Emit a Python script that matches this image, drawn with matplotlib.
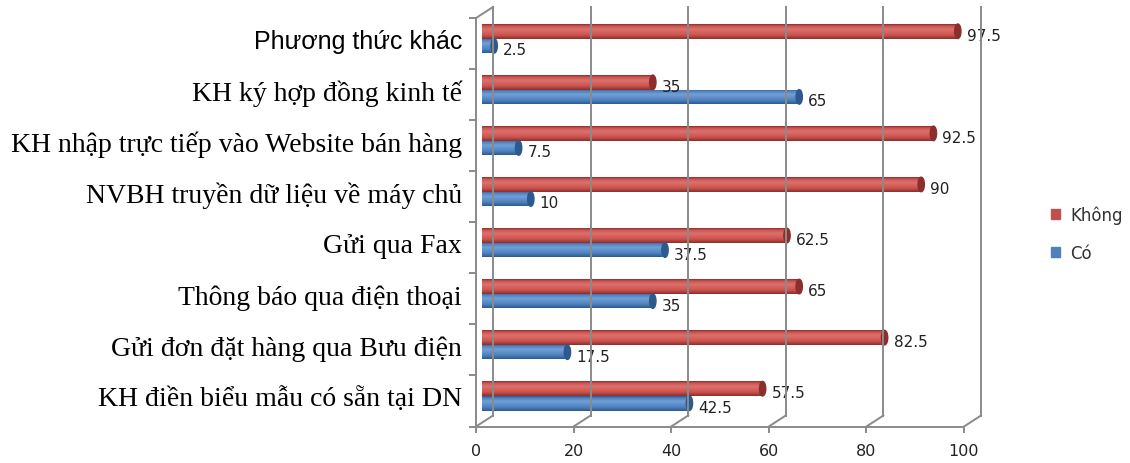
import numpy as np
import matplotlib
matplotlib.use("Agg")
import matplotlib.pyplot as plt
import matplotlib.transforms as mtrans
from matplotlib.lines import Line2D
from matplotlib.patches import Patch

# categories listed bottom -> top
categories = [
    "KH điền biểu mẫu có sẵn tại DN",
    "Gửi đơn đặt hàng qua Bưu điện",
    "Thông báo qua điện thoại",
    "Gửi qua Fax",
    "NVBH truyền dữ liệu về máy chủ",
    "KH nhập trực tiếp vào Website bán hàng",
    "KH ký hợp đồng kinh tế",
    "Phương thức khác",
]
khong = [57.5, 82.5, 65, 62.5, 90, 92.5, 35, 97.5]
co = [42.5, 17.5, 35, 37.5, 10, 7.5, 65, 2.5]
xticks = [0, 20, 40, 60, 80, 100]

red = "#C0504D"
blue = "#4F81BD"
grid_c = "#8A8A8A"

fig = plt.figure(figsize=(11.3, 4.64), dpi=100)
ax = fig.add_axes([482 / 1130, 41.5 / 464, 488 / 1130, 408.5 / 464])

y = np.arange(len(categories))
h = 0.285
bars_k = ax.barh(y + h / 2, khong, height=h, color=red, zorder=3)
bars_c = ax.barh(y - h / 2, co, height=h, color=blue, zorder=3)


def shade(bars, dark, mid, light):
    # fake cylinder look: vertical gradient clipped to each bar
    cm = matplotlib.colors.LinearSegmentedColormap.from_list(
        "c", [(0, dark), (0.25, mid), (0.65, light), (0.88, mid), (1, dark)])
    grad = np.linspace(0, 1, 64).reshape(-1, 1)
    for b in bars:
        x0, y0 = b.get_x(), b.get_y()
        im = ax.imshow(grad, cmap=cm, extent=[x0, x0 + b.get_width(), y0, y0 + b.get_height()],
                       origin="lower", aspect="auto", zorder=4, interpolation="bilinear")
        im.set_clip_path(b)
        cap = matplotlib.patches.Ellipse((x0 + b.get_width(), y0 + b.get_height() / 2), 1.3,
                                         b.get_height(), color=dark, zorder=5)
        ax.add_patch(cap)


shade(bars_k, "#8C2E2B", "#C9524E", "#DE716D")
shade(bars_c, "#2D5A8E", "#4D80BC", "#72A0D8")

for bars, vals in [(bars_k, khong), (bars_c, co)]:
    for b, v in zip(bars, vals):
        ax.annotate(f"{v:g}", (v, b.get_y() + b.get_height() / 2), xytext=(9, -4),
                    textcoords="offset pixels", va="center", ha="left",
                    fontsize=11, color="#222222", zorder=6)

ax.set_xlim(0, 100)
ax.set_ylim(-0.5, len(categories) - 0.5)
for s in ax.spines.values():
    s.set_visible(False)

ax.set_yticks(y)
ax.set_yticklabels(categories)
ax.tick_params(axis="y", length=0, pad=14.4)
for lbl in ax.get_yticklabels():
    if lbl.get_text() == "Phương thức khác":
        lbl.set_fontfamily("Liberation Sans")
        lbl.set_fontsize(18)
    else:
        lbl.set_fontfamily("Liberation Serif")
        lbl.set_fontsize(20)

front_off = mtrans.ScaledTranslation(-6 / 100, -5 / 100, fig.dpi_scale_trans)
ax.set_xticks(xticks)
ax.tick_params(axis="x", length=0, pad=12, labelsize=11.5, labelcolor="#222222")
for lbl in ax.get_xticklabels():
    lbl.set_transform(lbl.get_transform() + front_off)

# 3D frame: front plane, back wall and floor
FX, FY = -6, -5
BX, BY = 11, 6


def pt(x, yv, ox, oy):
    px, py = ax.transData.transform((x, yv))
    return px + ox, py + oy


def seg(a, b):
    ln = Line2D([a[0], b[0]], [a[1], b[1]], transform=mtrans.IdentityTransform(),
                color=grid_c, lw=1.4, zorder=1)
    fig.add_artist(ln)


y0, y1 = -0.5, len(categories) - 0.5
for t in xticks:
    seg(pt(t, y0, BX, BY), pt(t, y1, BX, BY))
    seg(pt(t, y0, FX, FY), pt(t, y0, BX, BY))
    seg(pt(t, y0, FX, FY), pt(t, y0, FX, FY - 5))
seg(pt(0, y0, FX, FY), pt(100, y0, FX, FY))
seg(pt(0, y0, FX, FY), pt(0, y1, FX, FY))
seg(pt(0, y1, FX, FY), pt(0, y1, BX, BY))
for k in np.arange(y0, y1 + 0.01, 1.0):
    seg(pt(0, k, FX, FY), pt(0, k, FX - 6, FY))

handles = [Patch(color=red), Patch(color=blue)]
fig.legend(handles, ["Không", "Có"], loc="center left", bbox_to_anchor=(1036 / 1130, 1 - 235 / 464),
           frameon=False, fontsize=12, handlelength=0.55, handleheight=0.55, handletextpad=0.6,
           labelspacing=1.2, labelcolor="#333333")

fig.savefig("out.png", dpi=100)
